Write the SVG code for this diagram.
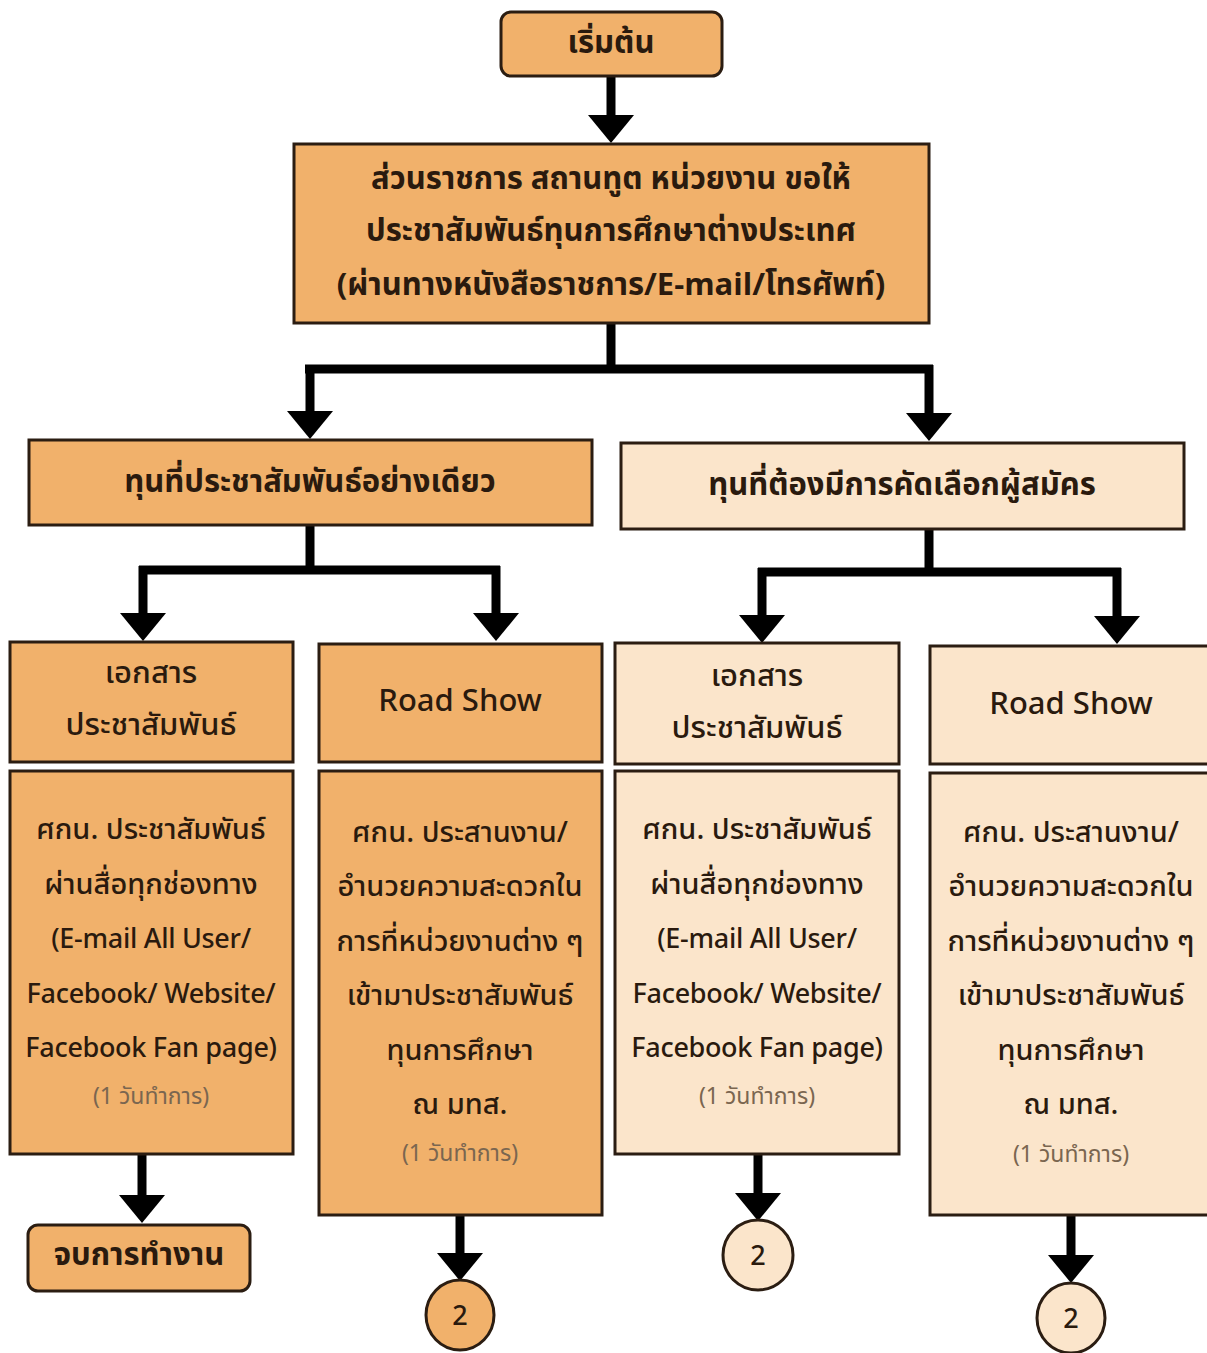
<svg xmlns="http://www.w3.org/2000/svg" width="1207" height="1353" viewBox="0 0 1207 1353">
<style>
.o{fill:#F1B16B;stroke:#2b1d12;stroke-width:3}
.l{fill:#FBE5CB;stroke:#2b1d12;stroke-width:3}
text{font-family:"Noto Sans Thai","Noto Sans","DejaVu Sans","Liberation Sans",sans-serif;fill:#2a1a0e;text-anchor:middle}
.t{font-size:31px;font-weight:bold}
.h1{font-size:31px;font-weight:500}
.b{font-size:29px;font-weight:500}
.e{font-size:27px;font-weight:500;letter-spacing:-0.3px}
.s{font-size:23px;fill:#7a6650}
.n{font-size:27px;font-weight:500}
.c{fill:none;stroke:#000;stroke-width:9}
.h{fill:#000}
</style>
<defs>
<polygon id="ah" points="-23,-28 23,-28 0,0"/>
</defs>
<g id="connectors">
<path class="c" d="M611,76V118"/>
<use href="#ah" x="611" y="143" class="h"/>
<path class="c" d="M611,323V369M305,369H933M310,365V412M929,365V414"/>
<use href="#ah" x="310" y="439" class="h"/>
<use href="#ah" x="929" y="441" class="h"/>
<path class="c" d="M310,525V570M139,570H500M143,566V614M496,566V614"/>
<use href="#ah" x="143" y="641" class="h"/>
<use href="#ah" x="496" y="641" class="h"/>
<path class="c" d="M929,529V572M758,572H1121M762,568V616M1117,568V616"/>
<use href="#ah" x="762" y="643" class="h"/>
<use href="#ah" x="1117" y="644" class="h"/>
<path class="c" d="M142,1154V1198"/>
<use href="#ah" x="142" y="1223" class="h"/>
<path class="c" d="M460,1215V1256"/>
<use href="#ah" x="460" y="1281" class="h"/>
<path class="c" d="M758,1154V1196"/>
<use href="#ah" x="758" y="1221" class="h"/>
<path class="c" d="M1071,1215V1258"/>
<use href="#ah" x="1071" y="1283" class="h"/>
</g>
<g id="start">
<rect class="o" x="501" y="12" width="221" height="64" rx="10"/>
<text class="t" x="611" y="53">เริ่มต้น</text>
</g>
<g id="request">
<rect class="o" x="294" y="144" width="635" height="179"/>
<text class="t" x="611" y="189">ส่วนราชการ สถานทูต หน่วยงาน ขอให้</text>
<text class="t" x="611" y="241">ประชาสัมพันธ์ทุนการศึกษาต่างประเทศ</text>
<text class="t" x="611" y="295">(ผ่านทางหนังสือราชการ/E-mail/โทรศัพท์)</text>
</g>
<g id="pr-only">
<rect class="o" x="29" y="440" width="563" height="85"/>
<text class="t" x="310" y="492">ทุนที่ประชาสัมพันธ์อย่างเดียว</text>
</g>
<g id="selection">
<rect class="l" x="621" y="443" width="563" height="86"/>
<text class="t" x="902" y="495">ทุนที่ต้องมีการคัดเลือกผู้สมัคร</text>
</g>
<g id="docA-head">
<rect class="o" x="10" y="642" width="283" height="120"/>
<text class="h1" x="151" y="683">เอกสาร</text>
<text class="h1" x="151" y="735">ประชาสัมพันธ์</text>
</g>
<g id="roadB-head">
<rect class="o" x="319" y="644" width="283" height="118"/>
<text class="h1" x="460" y="711">Road Show</text>
</g>
<g id="docC-head">
<rect class="l" x="615" y="643" width="284" height="121"/>
<text class="h1" x="757" y="686">เอกสาร</text>
<text class="h1" x="757" y="738">ประชาสัมพันธ์</text>
</g>
<g id="roadD-head">
<rect class="l" x="930" y="646" width="282" height="118"/>
<text class="h1" x="1071" y="714">Road Show</text>
</g>
<g id="docA-body">
<rect class="o" x="10" y="771" width="283" height="383"/>
<text class="b" x="151" y="839">ศกน. ประชาสัมพันธ์</text>
<text class="b" x="151" y="894">ผ่านสื่อทุกช่องทาง</text>
<text class="e" x="151" y="948">(E-mail All User/</text>
<text class="e" x="151" y="1003">Facebook/ Website/</text>
<text class="e" x="151" y="1057">Facebook Fan page)</text>
<text class="s" x="151" y="1104">(1 วันทำการ)</text>
</g>
<g id="roadB-body">
<rect class="o" x="319" y="771" width="283" height="444"/>
<text class="b" x="460" y="842">ศกน. ประสานงาน/</text>
<text class="b" x="460" y="896">อำนวยความสะดวกใน</text>
<text class="b" x="460" y="951">การที่หน่วยงานต่าง ๆ</text>
<text class="b" x="460" y="1005">เข้ามาประชาสัมพันธ์</text>
<text class="b" x="460" y="1060">ทุนการศึกษา</text>
<text class="b" x="460" y="1114">ณ มทส.</text>
<text class="s" x="460" y="1161">(1 วันทำการ)</text>
</g>
<g id="docC-body">
<rect class="l" x="615" y="771" width="284" height="383"/>
<text class="b" x="757" y="839">ศกน. ประชาสัมพันธ์</text>
<text class="b" x="757" y="894">ผ่านสื่อทุกช่องทาง</text>
<text class="e" x="757" y="948">(E-mail All User/</text>
<text class="e" x="757" y="1003">Facebook/ Website/</text>
<text class="e" x="757" y="1057">Facebook Fan page)</text>
<text class="s" x="757" y="1104">(1 วันทำการ)</text>
</g>
<g id="roadD-body">
<rect class="l" x="930" y="773" width="282" height="442"/>
<text class="b" x="1071" y="842">ศกน. ประสานงาน/</text>
<text class="b" x="1071" y="896">อำนวยความสะดวกใน</text>
<text class="b" x="1071" y="951">การที่หน่วยงานต่าง ๆ</text>
<text class="b" x="1071" y="1005">เข้ามาประชาสัมพันธ์</text>
<text class="b" x="1071" y="1060">ทุนการศึกษา</text>
<text class="b" x="1071" y="1114">ณ มทส.</text>
<text class="s" x="1071" y="1162">(1 วันทำการ)</text>
</g>
<g id="end">
<rect class="o" x="28" y="1225" width="222" height="66" rx="10"/>
<text class="t" x="139" y="1265">จบการทำงาน</text>
</g>
<g id="conn-B">
<ellipse class="o" cx="460" cy="1315" rx="34" ry="35"/>
<text class="n" x="460" y="1325">2</text>
</g>
<g id="conn-C">
<ellipse class="l" cx="758" cy="1255" rx="35" ry="35"/>
<text class="n" x="758" y="1265">2</text>
</g>
<g id="conn-D">
<ellipse class="l" cx="1071" cy="1318" rx="34" ry="35"/>
<text class="n" x="1071" y="1328">2</text>
</g>
</svg>
